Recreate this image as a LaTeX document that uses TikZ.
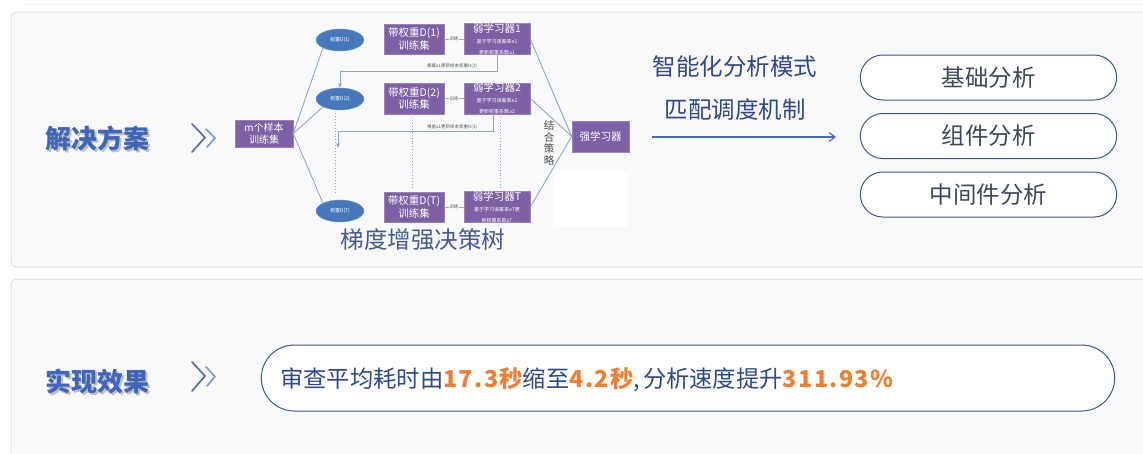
\documentclass[tikz,border=0pt]{standalone}
\usepackage{fontspec}
\setmainfont{Noto Sans CJK SC}
\usetikzlibrary{shapes.geometric,shapes.misc,arrows.meta,calc}
\definecolor{panelfill}{RGB}{249,249,249}
\definecolor{panelborder}{RGB}{226,226,226}
\definecolor{titleblue}{RGB}{62,102,186}
\definecolor{purpfill}{RGB}{126,96,166}
\definecolor{purpborder}{RGB}{150,130,188}
\definecolor{ellfill}{RGB}{72,120,188}
\definecolor{ellborder}{RGB}{110,150,205}
\definecolor{linkblue}{RGB}{140,168,208}
\definecolor{darkblue}{RGB}{46,72,140}
\definecolor{pillborder}{RGB}{58,88,150}
\definecolor{pilltext}{RGB}{62,72,92}
\definecolor{orangetxt}{RGB}{238,126,50}
\definecolor{chevblue}{RGB}{70,105,190}
\definecolor{chevlight}{RGB}{120,150,215}
\newcommand\orangenum[1]{{\bfseries\addfontfeature{LetterSpace=6}\color{orangetxt}#1}}
\tikzset{
  panel/.style={draw=panelborder,fill=panelfill,rounded corners=5pt,line width=1pt},
  pbox/.style={rectangle,draw=purpborder,fill=purpfill,text=white,inner sep=0pt,align=center,line width=0.6pt},
  wellipse/.style={ellipse,draw=ellborder,fill=ellfill,text=white,inner sep=0pt,minimum width=48pt,minimum height=22pt,font=\fontsize{5}{6}\selectfont},
  pill/.style={rounded rectangle,draw=pillborder,fill=white,line width=1pt,text=pilltext,font=\fontsize{23.5}{27}\selectfont},
  link/.style={draw=linkblue,line width=0.9pt},
  fb/.style={draw=linkblue,line width=0.9pt,-{Stealth[length=5pt,width=4pt]}},
  dotl/.style={draw=linkblue,line width=0.9pt,dotted},
  tiny/.style={font=\fontsize{4.5}{5.5}\selectfont,text=black!65,inner sep=0.5pt},
  chev/.style={line width=1.6pt,line cap=round,line join=miter},
  title/.style={font=\fontsize{26}{30}\selectfont\bfseries,text=titleblue},
  tshadow/.style={font=\fontsize{26}{30}\selectfont\bfseries,text=black!25}
}
\begin{document}
\begin{tikzpicture}[x=1pt,y=-1pt]
\useasboundingbox (0,0) rectangle (1143,453);
\clip (0,0) rectangle (1143,453);
\fill[white] (0,0) rectangle (1143,453);
\draw[panelborder!70,line width=0.8pt] (25,4) -- (1143,4);
% panels
\draw[panel] (11,12) rectangle (1160,267);
\draw[panel] (11,279) rectangle (1160,470);

% titles
\node[tshadow] at (99,140) {解决方案};
\node[title] (t1) at (97,138) {解决方案};
\node[tshadow] at (99,383) {实现效果};
\node[title] (t2) at (97,381) {实现效果};

% chevrons
\draw[chev,chevblue] (192,124) -- (205,137.5) -- (192,152);
\draw[chev,chevlight] (206,129) -- (215,138) -- (207,147);
\draw[chev,chevblue] (192,362) -- (205,376) -- (192,391);
\draw[chev,chevlight] (206,367) -- (215,376.5) -- (207,386);

% diagram
\node[pbox,minimum width=58pt,minimum height=27pt,font=\fontsize{10}{12}\selectfont] (m) at (264,133.5) {m个样本\\训练集};
\node[wellipse] (e1) at (340,40) {权重D(1)};
\node[wellipse] (e2) at (340,99) {权重D(2)};
\node[wellipse] (eT) at (340,211) {权重D(T)};

\node[pbox,minimum width=60pt,minimum height=30pt,font=\fontsize{10.5}{12.5}\selectfont] (d1) at (414,39) {带权重D(1)\\训练集};
\node[pbox,minimum width=60pt,minimum height=31pt,font=\fontsize{10.5}{12.5}\selectfont] (d2) at (414,98.5) {带权重D(2)\\训练集};
\node[pbox,minimum width=60pt,minimum height=30pt,font=\fontsize{10.5}{12.5}\selectfont] (dT) at (414,207) {带权重D(T)\\训练集};

\node[pbox,minimum width=66pt,minimum height=30pt] (l1) at (497,39) {{\fontsize{10.5}{12}\selectfont 弱学习器1}\\[-1pt]{\fontsize{5}{6}\selectfont 基于学习误差率e1}\\[-1pt]{\fontsize{5}{6}\selectfont 更新权重系数a1}};
\node[pbox,minimum width=66pt,minimum height=31pt] (l2) at (497,98.5) {{\fontsize{10.5}{12}\selectfont 弱学习器2}\\[-1pt]{\fontsize{5}{6}\selectfont 基于学习误差率e2}\\[-1pt]{\fontsize{5}{6}\selectfont 更新权重系数a2}};
\node[pbox,minimum width=66pt,minimum height=30pt] (lT) at (497,207) {{\fontsize{10.5}{12}\selectfont 弱学习器T}\\[-1pt]{\fontsize{5}{6}\selectfont 基于学习误差率eT更}\\[-1pt]{\fontsize{5}{6}\selectfont 新权重系数aT}};

\node[pbox,minimum width=57pt,minimum height=31pt,font=\fontsize{10.5}{12.5}\selectfont] (s) at (600.5,136.5) {强学习器};

% blank white patch
\fill[white] (553,170) rectangle (628,227);

% links
\draw[link] (m.east) -- (e1.south west);
\draw[link] (m.east) -- (e2.south west);
\draw[link] (m.east) -- (eT.north west);
\draw[link] (l1.east) -- (s.west);
\draw[link] (l2.east) -- (s.west);
\draw[link] (lT.east) -- (s.west);

% training links
\draw[draw=black!35,line width=0.8pt] (d1.east) -- (l1.west);
\draw[draw=black!35,line width=0.8pt] (d2.east) -- (l2.west);
\draw[draw=black!35,line width=0.8pt] (dT.east) -- (lT.west);
\node[tiny,fill=panelfill] at (454,39) {训练};
\node[tiny,fill=panelfill] at (454,98.5) {训练};
\node[tiny,fill=panelfill] at (454,207) {训练};

% feedback arrows
\draw[fb] (l1.south) -- ++(0,16) -| (e2.north);
\node[tiny] at (452,66) {根据a1更新样本权重D(2)};
\coordinate (fb2end) at (338,148);
\draw[fb] ($(l2.south)+(-4,0)$) -- ++(0,17) -| (fb2end);
\node[tiny] at (452,127.5) {根据a1更新样本权重D(3)};

% dotted
\draw[dotl] ($(e2.south)+(-5,3)$) -- ($(eT.north)+(-5,-8)$);
\draw[dotl] ($(d2.south)+(-2,3)$) -- ($(dT.north)+(-2,-2)$);
\draw[dotl] ($(l2.south)+(3,3)$) -- ($(lT.north)+(3,-2)$);

\node[align=center,text=black!70,font=\fontsize{10.5}{11.5}\selectfont,inner sep=0pt] (jh) at (549,143) {结\\合\\策\\略};

\node[text=darkblue!90,font=\fontsize{23.5}{27}\selectfont] (gb) at (423,240) {梯度增强决策树};

% right part
\node[text=darkblue,font=\fontsize{23.5}{27}\selectfont] (zn) at (735,67) {智能化分析模式};
\node[text=darkblue,font=\fontsize{23.5}{27}\selectfont] (pp) at (735,110) {匹配调度机制};
\coordinate (arS) at (652,137);
\coordinate (arE) at (836,137);
\draw[draw=chevblue,line width=1.2pt,-{Straight Barb[length=6pt,width=9pt]}] (arS) -- (arE);

\node[pill,minimum width=263pt,minimum height=45pt] (p1) at (988.5,77.5) {基础分析};
\node[pill,minimum width=263pt,minimum height=45pt] (p2) at (988.5,136) {组件分析};
\node[pill,minimum width=263pt,minimum height=45pt] (p3) at (988.5,194.5) {中间件分析};

% bottom result
\node[rounded rectangle,draw=pillborder,fill=white,line width=1pt,minimum width=860pt,minimum height=66pt] (res) at (688,378) {};
\node[anchor=west,inner sep=0pt,text=darkblue,font=\fontsize{23.3}{26}\selectfont] (rtxt) at (280,380) {审查平均耗时由\orangenum{17.3秒}缩至\orangenum{4.2秒},\hspace{3pt}分析速度提升\orangenum{311.93\%}};
\end{tikzpicture}
\end{document}
